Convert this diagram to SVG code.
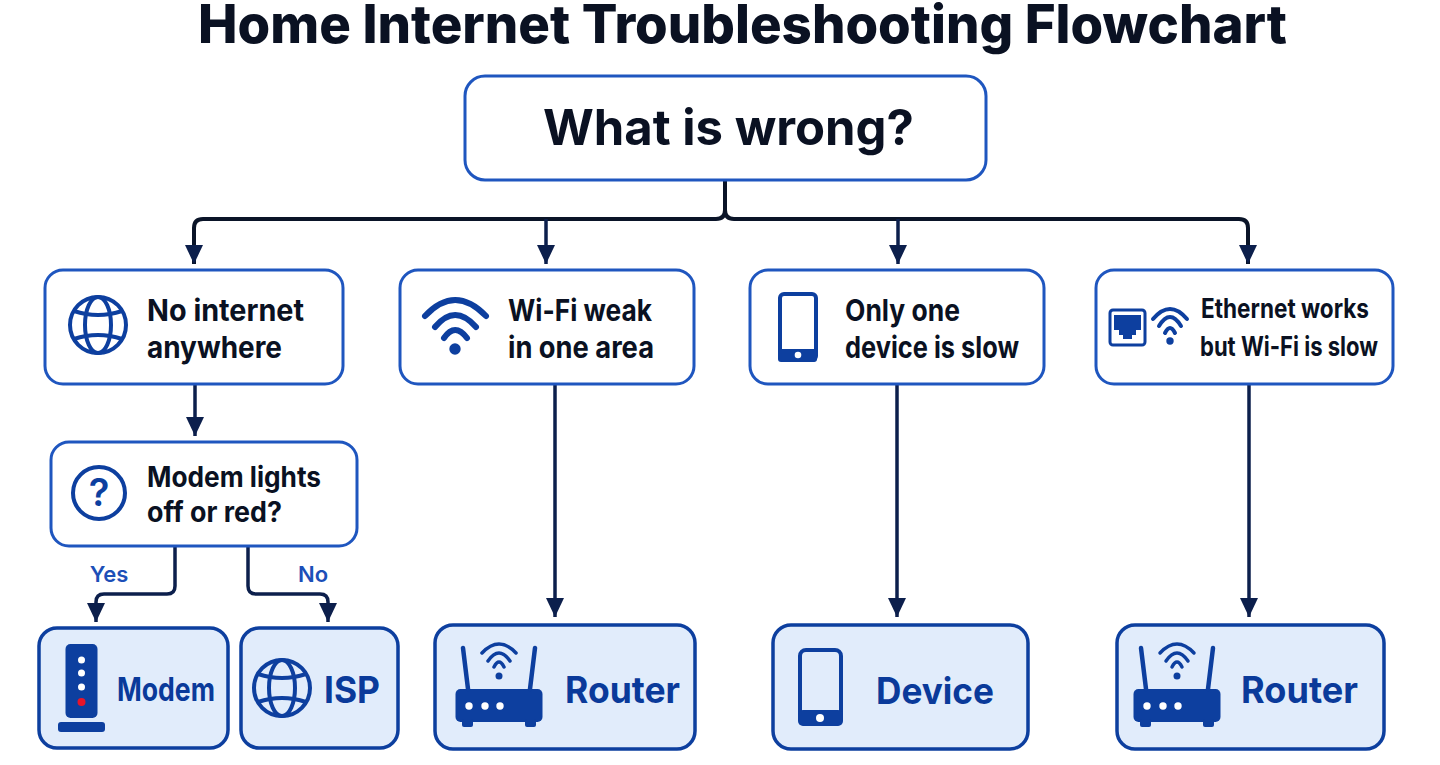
<svg xmlns="http://www.w3.org/2000/svg" width="1440" height="765" viewBox="0 0 1440 765">
<style>
text{font-family:"Inter","Liberation Sans",sans-serif}
.t{font-weight:700;fill:#0a1122;font-size:30px}
.t2{font-weight:700;fill:#0a1122;font-size:28px}
.title{font-weight:800;fill:#0a1122;font-size:53px}
.l{font-weight:700;fill:#0a3a9a;font-size:37px}
.lab{font-weight:600;fill:#1c4fb8;font-size:22px;text-anchor:middle}
.b{fill:#fff;stroke:#1f56bf;stroke-width:3}
.g{fill:#e1ecfb;stroke:#0d3f9f;stroke-width:3.5}
.c{fill:none;stroke:#0c1f4c;stroke-width:3.5;stroke-linejoin:round}
.c0{fill:none;stroke:#0a1428;stroke-width:4;stroke-linejoin:round}
.f{fill:#0d3f9f}
.d{fill:#fff}
.ar{fill:none;stroke:#0d3f9f;stroke-linecap:round}
</style>
<defs>
<marker id="a" markerUnits="userSpaceOnUse" markerWidth="20" markerHeight="20" refX="19" refY="10" orient="auto"><path d="M0 1L19 10L0 19Z" fill="#0c1f4c"/></marker>
<g id="globe" fill="none" stroke="#0d3f9f" stroke-width="4"><circle cx="0" cy="0" r="28"/><ellipse cx="0" cy="0" rx="13" ry="28"/><path d="M-24-14Q0-6 24-14M-24 14Q0 6 24 14"/></g>
<g id="router"><rect x="-43.5" y="-10" width="87" height="33" rx="5" class="f"/><rect x="-37" y="20" width="11" height="8" rx="2" class="f"/><rect x="26" y="20" width="11" height="8" rx="2" class="f"/><path d="M-31-10L-36-51M31-10L36-51" stroke="#0d3f9f" stroke-width="4.5" stroke-linecap="round"/><circle cx="-30" cy="7" r="3.7" class="d"/><circle cx="-14" cy="7" r="3.7" class="d"/><circle cx="1" cy="7" r="3.7" class="d"/><path class="ar" stroke-width="3.5" d="M-17-46Q0-64 17-46M-11-38Q0-54 11-38M-5-32Q0-42 5-32"/><circle cx="0" cy="-23" r="3.5" class="f"/></g>
</defs>
<rect width="1440" height="765" fill="#fff"/>
<text class="title" x="198" y="43" textLength="1089" lengthAdjust="spacingAndGlyphs">Home Internet Troubleshooting Flowchart</text>
<g id="connectors">
<path class="c0" d="M725 181V210Q725 219 716 219H203Q194 219 194 228V264" marker-end="url(#a)"/>
<path class="c0" d="M725 210Q725 219 734 219H1239Q1248 219 1248 228V264" marker-end="url(#a)"/>
<path class="c" d="M546 219V264" marker-end="url(#a)"/>
<path class="c" d="M898 219V264" marker-end="url(#a)"/>
<path class="c" d="M195 385V436" marker-end="url(#a)"/>
<path class="c" d="M175 547V586Q175 594 167 594H104Q96 594 96 602V622" marker-end="url(#a)"/>
<path class="c" d="M248 547V586Q248 594 256 594H320Q328 594 328 602V622" marker-end="url(#a)"/>
<path class="c" d="M555 385V617" marker-end="url(#a)"/>
<path class="c" d="M897 385V617" marker-end="url(#a)"/>
<path class="c" d="M1249 385V617" marker-end="url(#a)"/>
</g>
<text class="lab" x="109" y="582">Yes</text>
<text class="lab" x="313" y="582">No</text>
<g id="n-root"><rect class="b" x="465" y="76" width="521" height="104" rx="20"/><text x="543" y="145" textLength="371" lengthAdjust="spacingAndGlyphs" font-size="49" font-weight="700" fill="#0a1122">What is wrong?</text></g>
<g id="n-no-internet"><rect class="b" x="45" y="270" width="298" height="114" rx="18"/><use href="#globe" x="98" y="325"/><text class="t" x="147" y="321" textLength="157" lengthAdjust="spacingAndGlyphs">No internet</text><text class="t" x="147" y="358" textLength="135" lengthAdjust="spacingAndGlyphs">anywhere</text></g>
<g id="n-wifi-weak"><rect class="b" x="400" y="270" width="294" height="114" rx="18"/><path class="ar" stroke-width="6" d="M425 316Q455 284 486 316M435 327Q455 303 476 327M444 338Q455 322 467 338"/><circle class="f" cx="455" cy="349" r="5.7"/><text class="t" x="508" y="321" textLength="144" lengthAdjust="spacingAndGlyphs">Wi-Fi weak</text><text class="t" x="508" y="358" textLength="146" lengthAdjust="spacingAndGlyphs">in one area</text></g>
<g id="n-one-device"><rect class="b" x="750" y="270" width="294" height="114" rx="18"/><rect x="780" y="294" width="36" height="66" rx="4" fill="none" stroke="#0d3f9f" stroke-width="4"/><rect class="f" x="778" y="349" width="39" height="13" rx="3"/><circle class="d" cx="798" cy="355" r="3.3"/><text class="t" x="845" y="321" textLength="115" lengthAdjust="spacingAndGlyphs">Only one</text><text class="t" x="845" y="358" textLength="174" lengthAdjust="spacingAndGlyphs">device is slow</text></g>
<g id="n-ethernet"><rect class="b" x="1096" y="270" width="297" height="114" rx="18"/><rect x="1110" y="310" width="35" height="35" rx="3" fill="none" stroke="#0d3f9f" stroke-width="3"/><path class="f" d="M1114 315H1141V330H1136V335H1132V339H1123V335H1119V330H1114Z"/><path class="ar" stroke-width="4" d="M1153 319Q1170 299 1187 319M1159 326Q1170 308 1181 326M1165 333Q1170 323 1175 333"/><circle class="f" cx="1170" cy="341" r="3.7"/><text class="t" style="font-size:27px" x="1201" y="318" textLength="168" lengthAdjust="spacingAndGlyphs">Ethernet works</text><text class="t" style="font-size:27px" x="1200" y="356" textLength="178" lengthAdjust="spacingAndGlyphs">but Wi-Fi is slow</text></g>
<g id="n-modem-lights"><rect class="b" x="51" y="442" width="306" height="104" rx="18"/><circle cx="99" cy="493" r="26" fill="none" stroke="#0d3f9f" stroke-width="4"/><text x="99" y="506" text-anchor="middle" font-size="38" font-weight="600" fill="#0d3f9f">?</text><text class="t2" x="147" y="487" textLength="174" lengthAdjust="spacingAndGlyphs">Modem lights</text><text class="t2" x="147" y="522" textLength="135" lengthAdjust="spacingAndGlyphs">off or red?</text></g>
<g id="n-modem"><rect class="g" x="39" y="628" width="189" height="120" rx="18"/><rect class="f" x="65.500" y="644" width="32" height="74" rx="5"/><rect class="f" x="58" y="722" width="47" height="10" rx="3"/><circle class="d" cx="81.500" cy="660" r="3.500"/><circle class="d" cx="81.500" cy="673" r="3.500"/><circle class="d" cx="81.500" cy="687" r="3.500"/><circle cx="81.500" cy="702" r="4" fill="#e8142a"/><text class="l" x="117" y="701" textLength="98" lengthAdjust="spacingAndGlyphs" style="font-size:32px">Modem</text></g>
<g id="n-isp"><rect class="g" x="241" y="628" width="157" height="120" rx="18"/><use href="#globe" x="282" y="688"/><text class="l" x="324" y="703" textLength="56" lengthAdjust="spacingAndGlyphs">ISP</text></g>
<g id="n-router1"><rect class="g" x="435" y="625" width="260" height="124" rx="18"/><use href="#router" x="499" y="699"/><text class="l" x="565" y="703" textLength="115" lengthAdjust="spacingAndGlyphs">Router</text></g>
<g id="n-device"><rect class="g" x="773" y="625" width="255" height="124" rx="18"/><rect x="800" y="650" width="41" height="74" rx="6" fill="none" stroke="#0d3f9f" stroke-width="4"/><rect class="f" x="798" y="710" width="45" height="16" rx="5"/><circle class="d" cx="820" cy="718" r="4"/><text class="l" x="876" y="704" textLength="118" lengthAdjust="spacingAndGlyphs">Device</text></g>
<g id="n-router2"><rect class="g" x="1117" y="625" width="267" height="124" rx="18"/><use href="#router" x="1177" y="699"/><text class="l" x="1241" y="703" textLength="117" lengthAdjust="spacingAndGlyphs">Router</text></g>
</svg>
